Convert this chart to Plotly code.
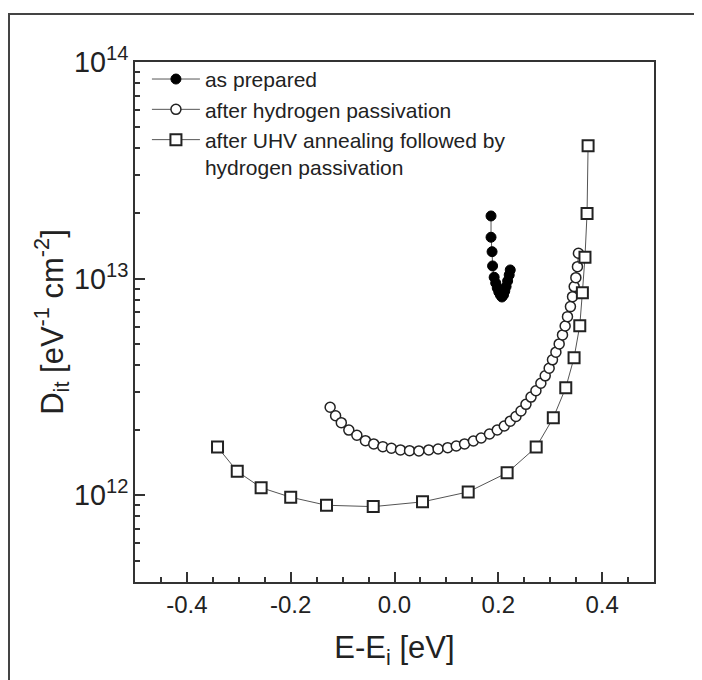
import plotly.graph_objects as go

# ---- data ----
prep_x = [0.186, 0.186, 0.188, 0.189, 0.192, 0.195, 0.198, 0.201, 0.204, 0.207,
          0.210, 0.2125, 0.215, 0.218, 0.221, 0.223]
prep_y = [1.947e13, 1.553e13, 1.332e13, 1.145e13, 1.015e13, 9.55e12, 9.06e12, 8.68e12,
          8.41e12, 8.23e12, 8.41e12, 8.77e12, 9.2e12, 9.76e12, 1.04e13, 1.097e13]

hyd_x = [-0.124, -0.1135, -0.1025, -0.088, -0.0725, -0.056, -0.040, -0.0225, -0.006,
         0.0115, 0.029, 0.047, 0.066, 0.084, 0.1025, 0.119, 0.135, 0.152, 0.167,
         0.183, 0.198, 0.2115, 0.223, 0.234, 0.2437, 0.2533, 0.263, 0.2725, 0.282,
         0.2904, 0.298, 0.3044, 0.311, 0.3173, 0.3237, 0.3288, 0.3333, 0.339, 0.343,
         0.3462, 0.3494, 0.3525, 0.3544]
hyd_y = [2.55e12, 2.33e12, 2.165e12, 2.00e12, 1.894e12, 1.788e12, 1.727e12, 1.678e12,
         1.650e12, 1.620e12, 1.608e12, 1.603e12, 1.620e12, 1.637e12, 1.660e12, 1.690e12,
         1.727e12, 1.782e12, 1.840e12, 1.920e12, 2.003e12, 2.09e12, 2.20e12, 2.31e12,
         2.45e12, 2.63e12, 2.84e12, 3.04e12, 3.29e12, 3.56e12, 3.86e12, 4.22e12,
         4.58e12, 5.00e12, 5.50e12, 6.05e12, 6.68e12, 7.43e12, 8.26e12, 9.19e12,
         1.011e13, 1.136e13, 1.31e13]

uhv_x = [-0.341, -0.303, -0.257, -0.200, -0.131, -0.041, 0.054, 0.142, 0.217, 0.273,
         0.306, 0.330, 0.346, 0.357, 0.362, 0.367, 0.371, 0.373]
uhv_y = [1.67e12, 1.29e12, 1.085e12, 0.98e12, 0.90e12, 0.887e12, 0.933e12, 1.037e12,
         1.27e12, 1.67e12, 2.28e12, 3.14e12, 4.32e12, 6.07e12, 8.62e12, 1.256e13,
         2.0e13, 4.11e13]

x_tickvals = [-0.4, -0.2, 0.0, 0.2, 0.4]
x_ticktext = ["-0.4", "-0.2", "0.0", "0.2", "0.4"]

names = ["as prepared", "after hydrogen passivation",
         "after UHV annealing followed by<br>hydrogen passivation"]

FONT = "Liberation Sans, Arial, sans-serif"
LINE = dict(color="#555555", width=1)

fig = go.Figure()
fig.add_trace(go.Scatter(x=prep_x, y=prep_y, mode="lines+markers", name=names[0],
                         line=LINE,
                         marker=dict(symbol="circle", size=10, color="black",
                                     line=dict(color="black", width=1))))
fig.add_trace(go.Scatter(x=hyd_x, y=hyd_y, mode="lines+markers", name=names[1],
                         line=LINE,
                         marker=dict(symbol="circle", size=10, color="white",
                                     line=dict(color="#222222", width=1.5))))
fig.add_trace(go.Scatter(x=uhv_x, y=uhv_y, mode="lines+markers", name=names[2],
                         line=LINE,
                         marker=dict(symbol="square", size=11, color="white",
                                     line=dict(color="#222222", width=2))))

# page body adds an 8px offset; positions below are reference pixels minus 8
OFF = 8
L, T, R, B = 135 - OFF, 62 - OFF, 654 - OFF, 582 - OFF
W, H = 702, 680
pw, ph = R - L, B - T

fig.update_layout(
    width=W, height=H,
    margin=dict(l=L, r=W - R, t=T, b=H - B, pad=0),
    paper_bgcolor="white", plot_bgcolor="white",
    font=dict(family=FONT, color="#222222"),
    showlegend=True,
    legend=dict(x=0.023, y=1.006, xanchor="left", yanchor="top",
                bgcolor="rgba(0,0,0,0)", borderwidth=0,
                font=dict(size=21, family=FONT, color="#222222"),
                valign="top", itemwidth=48, tracegroupgap=0),
    shapes=[dict(type="rect", xref="paper", yref="paper",
                 x0=(1 - L) / pw, x1=(W + 20 - L) / pw,
                 y0=(B - (H + 20)) / ph, y1=(B - 6) / ph,
                 line=dict(color="#444444", width=2), fillcolor="rgba(0,0,0,0)",
                 layer="below")],
)

fig.update_xaxes(
    range=[-0.5, 0.5], tickvals=x_tickvals, ticktext=x_ticktext,
    ticks="inside", ticklen=10, tickwidth=1.5, tickcolor="#333333",
    minor=dict(dtick=0.05, tick0=0, ticks="inside", ticklen=5, tickwidth=1.5,
               tickcolor="#333333", showgrid=False),
    showline=True, linecolor="#333333", linewidth=2, mirror=True,
    showgrid=False, zeroline=False,
    tickfont=dict(size=24, family=FONT, color="#222222"),
    title=dict(text="E-E<sub>i</sub> [eV]", font=dict(size=31, family=FONT, color="#222222"),
               standoff=20),
)
fig.update_yaxes(
    type="log", range=[11.6, 14], dtick=1, exponentformat="power",
    ticks="inside", ticklen=10, tickwidth=1.5, tickcolor="#333333",
    minor=dict(ticks="inside", ticklen=5, tickwidth=1.5, tickcolor="#333333",
               showgrid=False, dtick="D1"),
    showline=True, linecolor="#333333", linewidth=2, mirror=True,
    showgrid=False, zeroline=False,
    tickfont=dict(size=23, family=FONT, color="#222222"),
    title=dict(text="D<sub>it</sub> [eV<sup>-1</sup> cm<sup>-2</sup>]",
               font=dict(size=31, family=FONT, color="#222222"), standoff=0),
)

fig.write_html("out.html")
